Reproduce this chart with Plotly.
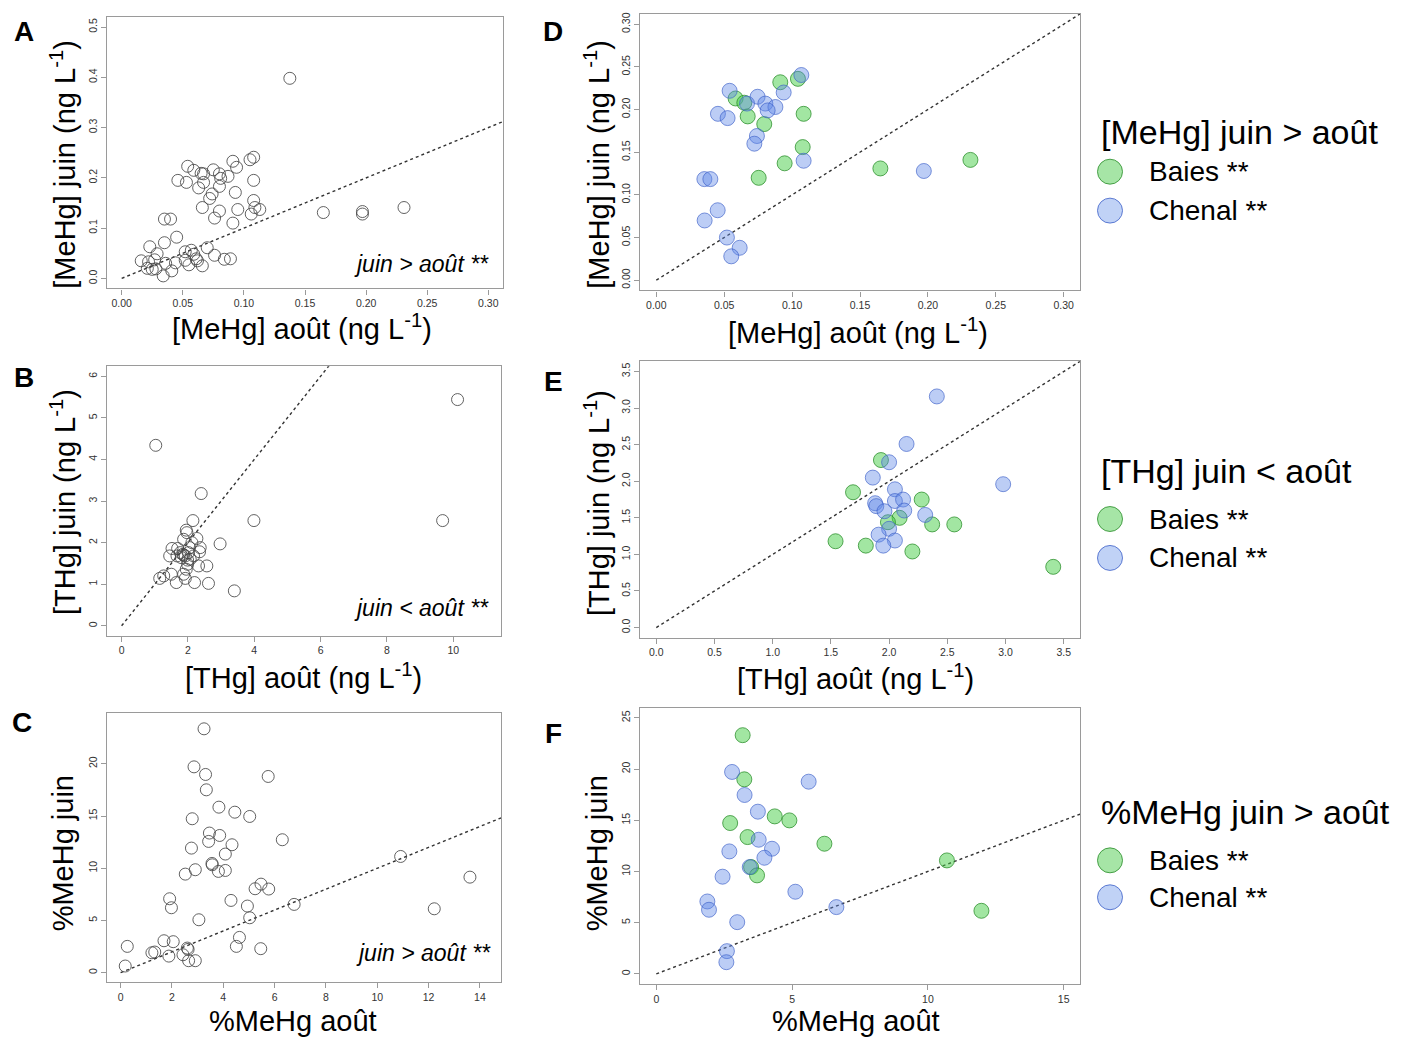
import plotly.graph_objects as go

# The page body has an 8px margin; the figure is sized to fit inside it
OFF = 8
W, H = 1413 - 2 * OFF, 1047 - 2 * OFF

# ---------------- DATA ----------------
# Panel A: [MeHg] août (x) vs juin (y), all sites
a_x = [0.1376, 0.165, 0.197, 0.197, 0.231, 0.054, 0.059, 0.065, 0.067, 0.075, 0.080, 0.081, 0.087,
       0.091, 0.094, 0.105, 0.108, 0.046, 0.053, 0.067, 0.063, 0.080, 0.074, 0.072, 0.093, 0.108,
       0.108, 0.066, 0.080, 0.076, 0.095, 0.091, 0.106, 0.109, 0.113, 0.035, 0.040, 0.045, 0.035,
       0.023, 0.029, 0.016, 0.022, 0.027, 0.021, 0.025, 0.028, 0.034, 0.036, 0.041, 0.044, 0.052,
       0.057, 0.052, 0.055, 0.061, 0.062, 0.066, 0.070, 0.076, 0.084, 0.089, 0.059]
a_y = [0.398, 0.131, 0.133, 0.128, 0.141, 0.223, 0.215, 0.209, 0.208, 0.216, 0.208, 0.199, 0.203,
       0.233, 0.221, 0.236, 0.241, 0.195, 0.191, 0.191, 0.180, 0.183, 0.168, 0.159, 0.171, 0.195,
       0.155, 0.141, 0.134, 0.120, 0.137, 0.110, 0.128, 0.141, 0.137, 0.118, 0.118, 0.082, 0.071,
       0.063, 0.049, 0.035, 0.033, 0.037, 0.020, 0.018, 0.019, 0.005, 0.030, 0.015, 0.031, 0.053,
       0.056, 0.036, 0.027, 0.039, 0.035, 0.025, 0.061, 0.046, 0.038, 0.039, 0.048]

# Panel B: [THg] août (x) vs juin (y)
b_x = [10.13, 9.68, 1.03, 2.40, 3.99, 2.97, 3.40, 2.15, 1.95, 1.87, 2.27, 1.52, 1.69, 1.45, 1.87,
       1.92, 1.85, 2.05, 2.35, 2.37, 2.17, 1.99, 2.32, 2.57, 1.95, 1.87, 1.50, 1.27, 1.15, 1.65,
       1.92, 2.20, 2.62, 1.99, 1.80, 2.07, 2.02, 1.77, 1.67, 2.12, 1.97]
b_y = [5.44, 2.53, 4.34, 3.18, 2.53, 1.97, 0.84, 2.53, 2.30, 2.08, 2.10, 1.86, 1.86, 1.68, 1.70,
       1.68, 1.72, 1.88, 1.78, 1.88, 1.68, 1.48, 1.44, 1.44, 1.36, 1.24, 1.24, 1.20, 1.14, 1.04,
       1.14, 1.04, 1.02, 1.58, 1.64, 1.60, 1.76, 1.76, 1.68, 2.00, 2.24]

# Panel C: %MeHg août (x) vs juin (y)
c_x = [3.25, 2.86, 3.31, 5.75, 3.34, 3.83, 4.45, 5.03, 2.79, 3.46, 3.43, 3.86, 4.34, 6.30, 2.76,
       4.08, 3.56, 3.57, 3.81, 4.08, 2.91, 2.52, 10.91, 13.61, 5.47, 5.24, 5.77, 1.91, 1.98, 4.30,
       4.94, 6.76, 5.03, 12.22, 3.05, 4.63, 4.51, 5.46, 0.26, 1.69, 2.05, 1.22, 1.33, 1.88, 2.43,
       2.60, 2.63, 2.65, 2.91, 0.18]
c_y = [23.35, 19.71, 18.98, 18.79, 17.51, 15.85, 15.37, 14.96, 14.74, 13.37, 12.57, 13.14, 12.25,
       12.73, 11.93, 11.36, 10.46, 10.33, 9.70, 9.79, 9.86, 9.44, 11.13, 9.15, 8.48, 8.04, 8.01,
       7.08, 6.22, 6.92, 6.38, 6.54, 5.26, 6.12, 5.07, 3.38, 2.52, 2.30, 2.52, 3.06, 2.97, 1.91,
       1.98, 1.59, 1.72, 2.36, 2.23, 1.15, 1.15, 0.64]

# Panel D: [MeHg] by site type
d_baies_x = [0.0913, 0.1043, 0.0584, 0.0648, 0.0673, 0.0795, 0.1085, 0.1078, 0.0945, 0.0754, 0.165, 0.2313]
d_baies_y = [0.232, 0.236, 0.213, 0.208, 0.192, 0.183, 0.195, 0.156, 0.137, 0.120, 0.131, 0.141]
d_chenal_x = [0.1068, 0.054, 0.0938, 0.0746, 0.0803, 0.0668, 0.0877, 0.082, 0.0454, 0.0525, 0.0741,
              0.0722, 0.1085, 0.197, 0.0354, 0.0398, 0.0452, 0.0356, 0.052, 0.0614, 0.0552]
d_chenal_y = [0.2405, 0.222, 0.220, 0.215, 0.207, 0.207, 0.203, 0.199, 0.195, 0.190, 0.169,
              0.160, 0.140, 0.128, 0.1185, 0.1185, 0.082, 0.070, 0.050, 0.038, 0.028]

# Panel E: [THg] by site type
e_baies_x = [1.93, 1.69, 2.28, 2.09, 1.99, 2.37, 2.56, 1.54, 1.80, 2.20, 3.41]
e_baies_y = [2.29, 1.85, 1.75, 1.50, 1.44, 1.41, 1.41, 1.18, 1.12, 1.04, 0.83]
e_chenal_x = [2.41, 2.15, 2.00, 1.86, 2.98, 2.05, 2.05, 2.12, 1.88, 1.89, 1.96, 2.13, 2.31, 2.00,
              1.91, 2.05, 1.95]
e_chenal_y = [3.16, 2.51, 2.26, 2.05, 1.96, 1.89, 1.73, 1.75, 1.70, 1.66, 1.59, 1.60, 1.54, 1.35,
              1.27, 1.19, 1.12]

# Panel F: %MeHg by site type
f_baies_x = [3.18, 3.24, 2.72, 4.36, 4.90, 3.36, 6.19, 3.49, 3.71, 10.70, 11.97]
f_baies_y = [23.31, 19.00, 14.73, 15.38, 14.99, 13.36, 12.71, 10.43, 9.62, 11.08, 6.16]
f_chenal_x = [2.79, 5.61, 3.25, 3.74, 3.77, 4.26, 2.69, 3.98, 3.44, 2.44, 5.12, 1.88, 1.94, 6.63,
              2.98, 2.60, 2.58]
f_chenal_y = [19.72, 18.77, 17.47, 15.84, 13.10, 12.22, 11.96, 11.34, 10.43, 9.49, 8.02, 7.07,
              6.26, 6.52, 5.05, 2.22, 1.14]

# tick values
a_xticks = [0.00, 0.05, 0.10, 0.15, 0.20, 0.25, 0.30]
a_yticks = [0.0, 0.1, 0.2, 0.3, 0.4, 0.5]
b_xticks = [0, 2, 4, 6, 8, 10]
b_yticks = [0, 1, 2, 3, 4, 5, 6]
c_xticks = [0, 2, 4, 6, 8, 10, 12, 14]
c_yticks = [0, 5, 10, 15, 20]
d_xticks = [0.00, 0.05, 0.10, 0.15, 0.20, 0.25, 0.30]
d_yticks = [0.00, 0.05, 0.10, 0.15, 0.20, 0.25, 0.30]
e_xticks = [0.0, 0.5, 1.0, 1.5, 2.0, 2.5, 3.0, 3.5]
e_yticks = [0.0, 0.5, 1.0, 1.5, 2.0, 2.5, 3.0, 3.5]
f_xticks = [0, 5, 10, 15]
f_yticks = [0, 5, 10, 15, 20, 25]

# ---------------- LAYOUT HELPERS ----------------
FONT = "Arial, Liberation Sans, sans-serif"
GREEN_FILL = "rgba(70,205,70,0.50)"
GREEN_LINE = "rgba(40,140,40,0.75)"
BLUE_FILL = "rgba(95,135,230,0.42)"
BLUE_LINE = "rgba(60,95,200,0.65)"
OPEN_COL = "rgba(70,70,70,0.85)"


def px_x(p):
    return (p - OFF) / W


def px_y(p):
    return 1 - (p - OFF) / H


# panels: (suffix, box pixel l, r, t, b, xrange, yrange, xticks, yticks, xfmt, yfmt)
panels = [
    ("", 107, 503, 15, 287, [-0.012, 0.312], [-0.02, 0.52], a_xticks, a_yticks, ".2f", ".1f"),
    ("2", 107, 501, 365, 635, [-0.44, 11.44], [-0.24, 6.24], b_xticks, b_yticks, "d", "d"),
    ("3", 107, 501, 712, 982, [-0.53, 14.82], [-0.9, 24.9], c_xticks, c_yticks, "d", "d"),
    ("4", 640, 1080, 12, 289, [-0.012, 0.312], [-0.012, 0.312], d_xticks, d_yticks, ".2f", ".2f"),
    ("5", 640, 1080, 360, 637, [-0.14, 3.64], [-0.14, 3.64], e_xticks, e_yticks, ".1f", ".1f"),
    ("6", 640, 1080, 707, 984, [-0.6, 15.6], [-1.0, 26.0], f_xticks, f_yticks, "d", "d"),
]

fig = go.Figure()
layout = {}
for (s, l, r, t, b, xr, yr, xt, yt, xf, yf) in panels:
    common = dict(showline=True, mirror=True, linecolor="#9a9a9a", linewidth=1.2,
                  ticks="outside", ticklen=5, tickcolor="#9a9a9a", showgrid=False,
                  zeroline=False, tickfont=dict(family=FONT, size=10.5, color="#333"))
    layout["xaxis" + s] = dict(domain=[px_x(l), px_x(r)], range=xr, tickvals=xt,
                               tickformat=xf, anchor="y" + s, **common)
    layout["yaxis" + s] = dict(domain=[px_y(b), px_y(t)], range=yr, tickvals=yt,
                               tickformat=yf, anchor="x" + s, tickangle=-90, **common)

fig.update_layout(**layout)


def ax(s):
    return dict(xaxis="x" + s, yaxis="y" + s)


# 1:1 lines
for (s, l, r, t, b, xr, yr, *_rest) in panels:
    m = max(xr[1], yr[1])
    fig.add_trace(go.Scatter(x=[0, m], y=[0, m], mode="lines",
                             line=dict(color="#333", width=1.4, dash="dot"),
                             hoverinfo="skip", showlegend=False, **ax(s)))

open_marker = dict(symbol="circle-open", size=12, color=OPEN_COL, line=dict(width=1))
for s, xs, ys in [("", a_x, a_y), ("2", b_x, b_y), ("3", c_x, c_y)]:
    fig.add_trace(go.Scatter(x=xs, y=ys, mode="markers", marker=open_marker,
                             showlegend=False, **ax(s)))

green_marker = dict(symbol="circle", size=15, color=GREEN_FILL, line=dict(width=1, color=GREEN_LINE))
blue_marker = dict(symbol="circle", size=15, color=BLUE_FILL, line=dict(width=1, color=BLUE_LINE))
for s, gx, gy, bx, by in [("4", d_baies_x, d_baies_y, d_chenal_x, d_chenal_y),
                          ("5", e_baies_x, e_baies_y, e_chenal_x, e_chenal_y),
                          ("6", f_baies_x, f_baies_y, f_chenal_x, f_chenal_y)]:
    fig.add_trace(go.Scatter(x=gx, y=gy, mode="markers", marker=green_marker,
                             name="Baies", showlegend=False, **ax(s)))
    fig.add_trace(go.Scatter(x=bx, y=by, mode="markers", marker=blue_marker,
                             name="Chenal", showlegend=False, **ax(s)))

annotations = []


def add_text(text, x, y, size, angle=0, bold=False, italic=False, xanchor="center"):
    if bold:
        text = "<b>" + text + "</b>"
    if italic:
        text = "<i>" + text + "</i>"
    annotations.append(dict(text=text, x=px_x(x), y=px_y(y), xref="paper", yref="paper",
                            showarrow=False, textangle=angle, xanchor=xanchor, yanchor="middle",
                            font=dict(family=FONT, size=size, color="#000")))


# panel letters
for letter, x, y in [("A", 24, 30), ("B", 24, 376), ("C", 22, 722),
                     ("D", 553, 30), ("E", 553, 380), ("F", 553, 733)]:
    add_text(letter, x, y, 28, bold=True)

# axis titles
sup = " (ng L<sup>-1</sup>)"
TS = 29
add_text("[MeHg] août" + sup, 302, 326, TS)
add_text("[THg] août" + sup, 303, 675, TS)
add_text("%MeHg août", 293, 1021, TS)
add_text("[MeHg] août" + sup, 858, 330, TS)
add_text("[THg] août" + sup, 855, 676, TS)
add_text("%MeHg août", 856, 1021, TS)
add_text("[MeHg] juin" + sup, 63, 163, TS, angle=-90)
add_text("[THg] juin" + sup, 63, 501, TS, angle=-90)
add_text("%MeHg juin", 63, 853, TS, angle=-90)
add_text("[MeHg] juin" + sup, 597, 163, TS, angle=-90)
add_text("[THg] juin" + sup, 597, 502, TS, angle=-90)
add_text("%MeHg juin", 597, 853, TS, angle=-90)

# in-panel annotations
add_text("juin > août **", 491, 262, 23, italic=True, xanchor="right")
add_text("juin < août **", 491, 607, 23, italic=True, xanchor="right")
add_text("juin > août **", 493, 953, 23, italic=True, xanchor="right")

# legends on right
shapes = []
legend_blocks = [("[MeHg] juin > août", 130, 170, 209),
                 ("[THg] juin < août", 470, 518, 557),
                 ("%MeHg juin > août", 812, 860, 897)]
for title, ty, gy, by in legend_blocks:
    add_text(title, 1099, ty, 34, xanchor="left")
    add_text("Baies **", 1147, gy, 28, xanchor="left")
    add_text("Chenal **", 1147, by, 28, xanchor="left")
    for cy, fill, line in [(gy, "rgba(150,225,150,0.85)", "rgba(40,140,40,0.8)"),
                           (by, "rgba(185,205,245,0.9)", "rgba(60,95,200,0.8)")]:
        r = 12.5
        shapes.append(dict(type="circle", xref="paper", yref="paper",
                           x0=px_x(1110 - r), x1=px_x(1110 + r),
                           y0=px_y(cy + r), y1=px_y(cy - r),
                           fillcolor=fill, line=dict(color=line, width=1)))

fig.update_layout(annotations=annotations, shapes=shapes, width=W, height=H,
                  margin=dict(l=0, r=0, t=0, b=0), paper_bgcolor="white",
                  plot_bgcolor="white", showlegend=False)

fig.write_html("out.html")
